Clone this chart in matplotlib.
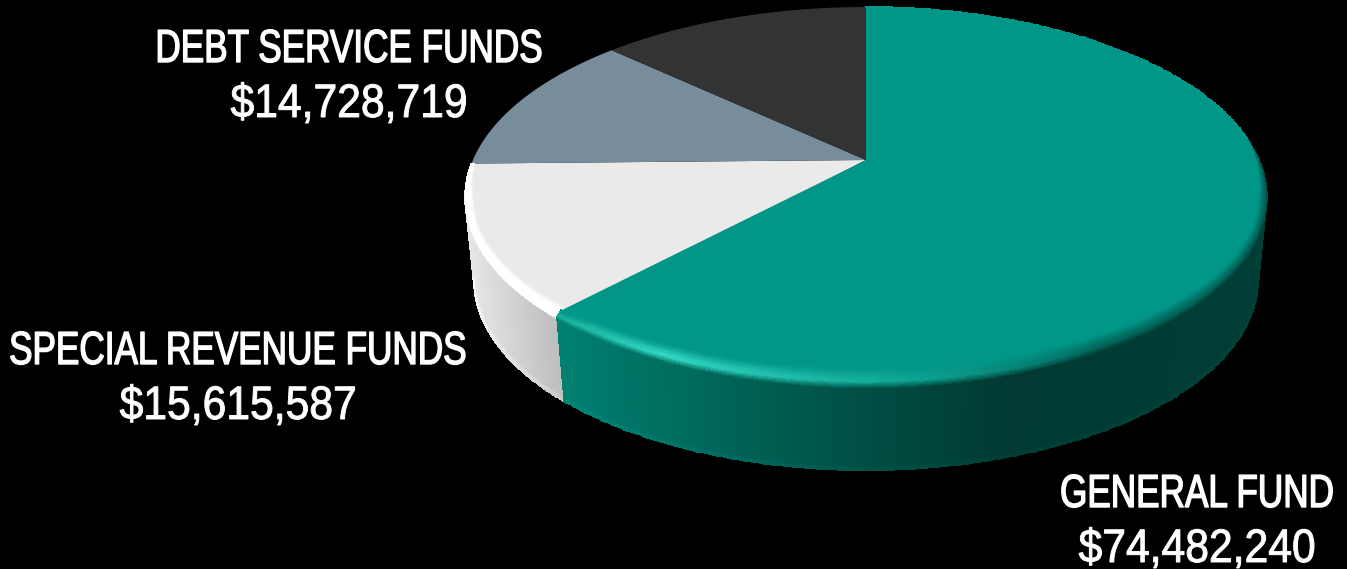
import numpy as np
import matplotlib
matplotlib.use('Agg')
import matplotlib.pyplot as plt
from matplotlib.patheffects import AbstractPathEffect
from matplotlib.transforms import Affine2D

# Data, clockwise from twelve o'clock
funds = ['GENERAL FUND', 'SPECIAL REVENUE FUNDS', 'DEBT SERVICE FUNDS', 'OTHER']
amounts = [74482240, 15615587, 14728719, 15800000]
amount_labels = ['$74,482,240', '$15,615,587', '$14,728,719', None]

# Pie geometry in pixels
CX, CY = 866, 160
R, S, P = 393, 182.8, 0.195
ELL_Y = 197
DEPTH = 83
SHRINK = 0.978

TOP_COLORS = ['#009688', '#eaeaea', '#788d9b', '#333333']
TEAL = np.array([0, 150, 136]) / 255
LIGHT = np.array([234, 234, 234]) / 255


class StretchY(AbstractPathEffect):
    """No condensed font here, so tall letters come from stretching the text."""

    def __init__(self, k, stroke):
        super().__init__()
        self.k = k
        self.stroke = stroke

    def draw_path(self, renderer, gc, tpath, affine, rgbFace=None):
        gc0 = renderer.new_gc()
        gc0.copy_properties(gc)
        gc0.set_foreground('white')
        gc0.set_linewidth(self.stroke)
        renderer.draw_path(gc0, tpath, Affine2D().scale(1, self.k) + affine, rgbFace)
        gc0.restore()


def project(theta, r=1.0):
    """Perspective projection of a point on the pie disc."""
    u = r * np.cos(theta)
    v = r * np.sin(theta)
    w = 1 + P * v
    return CX + R * u / w, CY - S * v / w


def ramp(x, stops, colors):
    """Piecewise colour ramp."""
    colors = np.array(colors) / 255
    return np.stack([np.interp(x, stops, colors[:, i]) for i in range(3)], axis=-1)


def draw_wall(ax, t0, t1, stops, colors):
    theta = np.linspace(t0, t1, 240)
    x, y = project(theta)
    s = np.array([0, 0.97, 1])[:, None]
    X = x + s * (SHRINK - 1) * (x - CX)
    Y = y + s * DEPTH
    c = ramp((x[:-1] + x[1:]) / 2, stops, colors)
    C = np.stack([c, np.clip(c * 1.06, 0, 1)])
    ax.pcolormesh(X, Y, C, edgecolors='face', linewidth=0.3, zorder=2)


def bevel_strength(theta):
    """Bevel is wide on the front of the pie and almost gone at the back."""
    return np.clip(0.12 + 0.88 * (0.1 - np.sin(theta)) / 0.3, 0.0, 1.0)


def draw_bevel(ax, t0, t1, edge_fn, mid_fn, base, hold, zorder, taper=False):
    theta = np.linspace(t0, t1, 400)
    x, y = project(theta)
    t = bevel_strength(theta)
    if taper:
        # narrower where the rim meets the slice edge
        t = t * np.clip(0.55 + 0.45 * (theta - t0) / np.radians(6), 0, 1)
    s = np.linspace(0, 1, 25)[:, None]
    X = x + s * (CX - x) * 0.026 * t
    Y = y + s * (ELL_Y - y) * 0.115 * t
    mid_theta = (theta[:-1] + theta[1:]) / 2
    edge = edge_fn(mid_theta)
    mid = mid_fn(mid_theta)
    sm = ((s[:-1] + s[1:]) / 2)
    C = np.zeros((len(sm), len(mid_theta), 3))
    for i, sv in enumerate(sm[:, 0]):
        if sv < hold[0]:
            a = sv / hold[0]
            C[i] = edge * (1 - a) + mid * a
        elif sv < hold[1]:
            C[i] = mid
        else:
            a = (sv - hold[1]) / (1 - hold[1])
            a = a * a * (3 - 2 * a)
            C[i] = mid * (1 - a) + base * a
    ax.pcolormesh(X, Y, C, edgecolors='face', linewidth=0.2, zorder=zorder)
    return X[-1, 0], Y[-1, 0], x[0], y[0]


def teal_edge(theta):
    deg = np.degrees(theta) % 360
    return ramp(deg, [0, 90, 228, 300, 360], [[0, 70, 60], [0, 130, 118], [0, 125, 110], [0, 62, 54], [0, 70, 60]])


def teal_mid(theta):
    deg = np.degrees(theta) % 360
    return ramp(deg, [0, 90, 226, 245, 275, 300, 360],
                [[0, 105, 95], [0, 145, 132], [20, 170, 150], [50, 215, 195], [15, 165, 148], [0, 105, 93], [0, 105, 95]])


def white_edge(theta):
    return np.tile(np.array([240, 240, 240]) / 255, (len(theta), 1))


def white_mid(theta):
    return np.ones((len(theta), 3))


fig = plt.figure(figsize=(13.47, 5.69), dpi=100, facecolor='black')
ax = fig.add_axes([0, 0, 1, 1])
ax.set_xlim(0, 1347)
ax.set_ylim(569, 0)
ax.axis('off')

# Slice angles, math convention, going clockwise from the top
fractions = np.array(amounts) / sum(amounts)
edges = np.pi / 2 - 2 * np.pi * np.concatenate([[0], np.cumsum(fractions)])

# Side walls, only the part between the two silhouette tangents can be seen
split = edges[1] + 2 * np.pi
tangent = np.arcsin(P)
draw_wall(ax, np.pi + tangent, split, [465, 560], [[232, 232, 232], [188, 188, 188]])
draw_wall(ax, split, 2 * np.pi - tangent, [558, 700, 850, 1010, 1268],
          [[0, 128, 112], [0, 105, 92], [0, 80, 70], [0, 58, 50], [0, 62, 54]])

# Top faces, white slice and its rim go under the teal one
face_z = [3.7, 3, 3, 3]
for i in range(len(amounts)):
    theta = np.linspace(edges[i], edges[i + 1], 300)
    x, y = project(theta)
    ax.fill(np.r_[CX, x], np.r_[CY, y], color=TOP_COLORS[i], lw=0, zorder=face_z[i])

# Rounded rim
ix, iy, ox, oy = draw_bevel(ax, edges[1], edges[0], teal_edge, teal_mid, TEAL, (0.3, 0.3), 4, taper=True)
ax.fill([CX, ix, ox], [CY, iy, oy], color=TOP_COLORS[0], lw=0, zorder=3.7)
draw_bevel(ax, edges[2], edges[1], white_edge, white_mid, LIGHT, (0.1, 0.62), 3.5)

# Labels
font = ['Liberation Sans', 'DejaVu Sans']
label_pos = {0: (1197, 507, 562), 1: (238, 364, 419), 2: (349, 62, 117)}
for i, (px, y1, y2) in label_pos.items():
    ax.text(px, y1, funds[i], color='white', fontsize=25.3, family=font,
            ha='center', va='baseline', zorder=6, path_effects=[StretchY(1.32, 1.0)])
    ax.text(px, y2, amount_labels[i], color='white', fontsize=30.7, family=font,
            ha='center', va='baseline', zorder=6, path_effects=[StretchY(1.1, 0.7)])

fig.savefig('out.png', dpi=100, facecolor='black')
